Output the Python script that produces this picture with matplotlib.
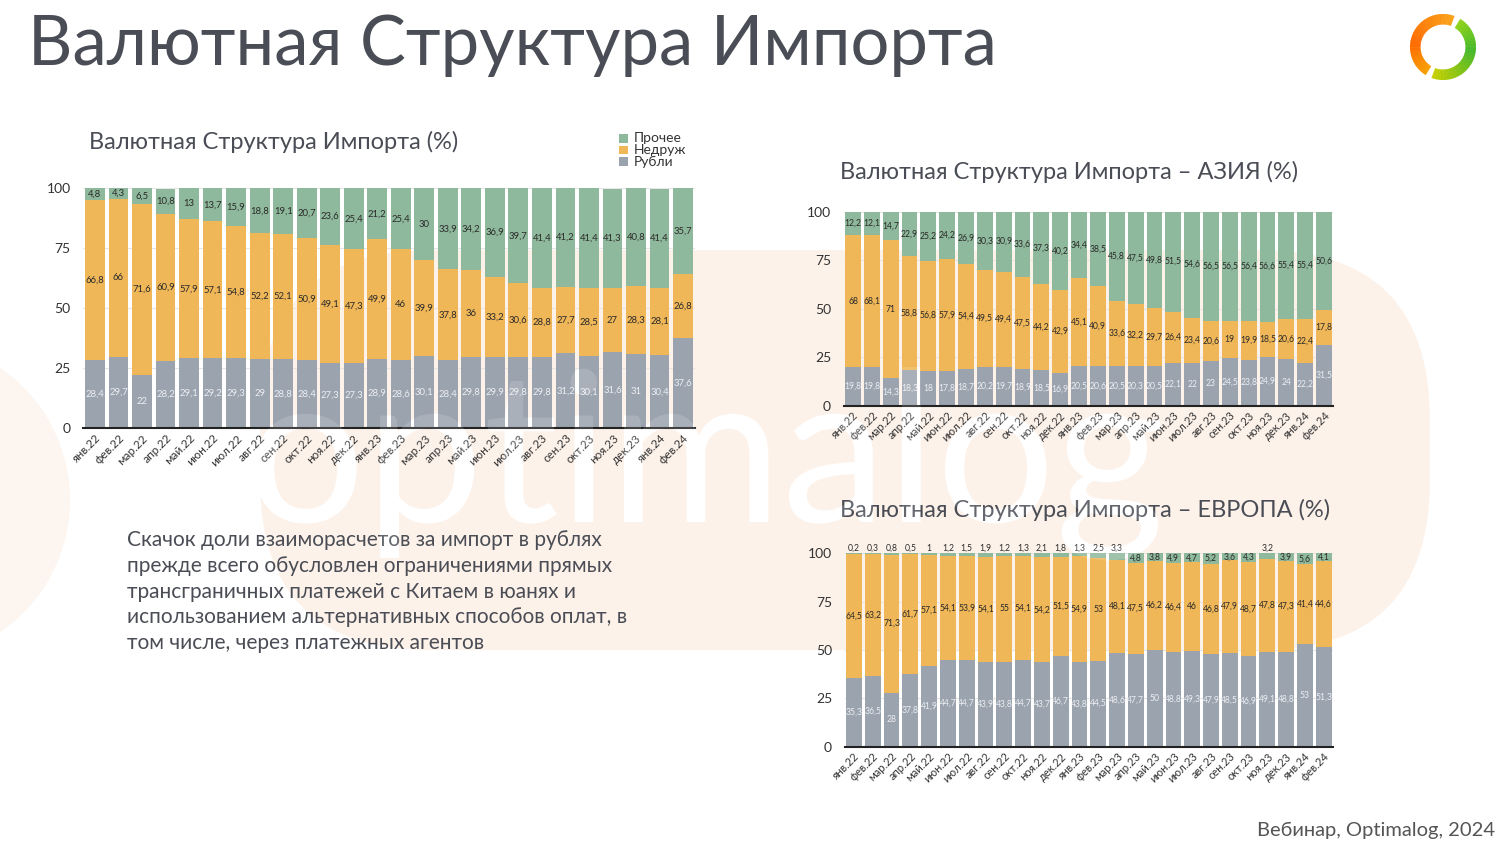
import matplotlib
matplotlib.use('Agg')
import matplotlib.pyplot as plt
from matplotlib.patches import FancyBboxPatch, Circle, Wedge, Rectangle, PathPatch
from matplotlib.textpath import TextPath
from matplotlib.font_manager import FontProperties
from matplotlib.transforms import Affine2D
from matplotlib.colors import to_rgb
import numpy as np

# ---- data ----
months = ['янв.22', 'фев.22', 'мар.22', 'апр.22', 'май.22', 'июн.22', 'июл.22',
          'авг.22', 'сен.22', 'окт.22', 'ноя.22', 'дек.22', 'янв.23', 'фев.23',
          'мар.23', 'апр.23', 'май.23', 'июн.23', 'июл.23', 'авг.23', 'сен.23',
          'окт.23', 'ноя.23', 'дек.23', 'янв.24', 'фев.24']

# all import
rub_all = [28.4, 29.7, 22, 28.2, 29.1, 29.2, 29.3, 29, 28.8, 28.4, 27.3, 27.3, 28.9,
           28.6, 30.1, 28.4, 29.8, 29.9, 29.8, 29.8, 31.2, 30.1, 31.6, 31, 30.4, 37.6]
ned_all = [66.8, 66, 71.6, 60.9, 57.9, 57.1, 54.8, 52.2, 52.1, 50.9, 49.1, 47.3, 49.9,
           46, 39.9, 37.8, 36, 33.2, 30.6, 28.8, 27.7, 28.5, 27, 28.3, 28.1, 26.8]
oth_all = [4.8, 4.3, 6.5, 10.8, 13, 13.7, 15.9, 18.8, 19.1, 20.7, 23.6, 25.4, 21.2,
           25.4, 30, 33.9, 34.2, 36.9, 39.7, 41.4, 41.2, 41.4, 41.3, 40.8, 41.4, 35.7]

# Asia
rub_asia = [19.8, 19.8, 14.3, 18.3, 18, 17.8, 18.7, 20.2, 19.7, 18.9, 18.5, 16.9, 20.5,
            20.6, 20.5, 20.3, 20.5, 22.1, 22, 23, 24.5, 23.8, 24.9, 24, 22.2, 31.5]
ned_asia = [68, 68.1, 71, 58.8, 56.8, 57.9, 54.4, 49.5, 49.4, 47.5, 44.2, 42.9, 45.1,
            40.9, 33.6, 32.2, 29.7, 26.4, 23.4, 20.6, 19, 19.9, 18.5, 20.6, 22.4, 17.8]
oth_asia = [12.2, 12.1, 14.7, 22.9, 25.2, 24.2, 26.9, 30.3, 30.9, 33.6, 37.3, 40.2, 34.4,
            38.5, 45.8, 47.5, 49.8, 51.5, 54.6, 56.5, 56.5, 56.4, 56.6, 55.4, 55.4, 50.6]

# Europe
rub_eu = [35.3, 36.5, 28, 37.8, 41.9, 44.7, 44.7, 43.9, 43.8, 44.7, 43.7, 46.7, 43.8,
          44.5, 48.6, 47.7, 50, 48.8, 49.3, 47.9, 48.5, 46.9, 49.1, 48.8, 53, 51.3]
ned_eu = [64.5, 63.2, 71.3, 61.7, 57.1, 54.1, 53.9, 54.1, 55, 54.1, 54.2, 51.5, 54.9,
          53, 48.1, 47.5, 46.2, 46.4, 46, 46.8, 47.9, 48.7, 47.8, 47.3, 41.4, 44.6]
oth_eu = [0.2, 0.3, 0.8, 0.5, 1, 1.2, 1.5, 1.9, 1.2, 1.3, 2.1, 1.8, 1.3,
          2.5, 3.3, 4.8, 3.8, 4.9, 4.7, 5.2, 3.6, 4.3, 3.2, 3.9, 5.6, 4.1]

series_names = ['Прочее', 'Недруж', 'Рубли']

C_OTH = '#8fb99c'
C_NED = '#f0b758'
C_RUB = '#9ba3ae'
TXT = '#4a4d55'
PEACH = '#fdf2ea'

plt.rcParams['font.family'] = ['Lato', 'DejaVu Sans']


def fmt(v):
    return f'{v:g}'.replace('.', ',')


def stacked(ax, rub, ned, oth, lab_fs, tick_fs, ytick_fs):
    x = np.arange(len(months))
    rub = np.array(rub, float)
    ned = np.array(ned, float)
    oth = np.array(oth, float)
    w = 0.84
    ax.bar(x, rub, width=w, color=C_RUB, zorder=2)
    ax.bar(x, ned, width=w, bottom=rub, color=C_NED, zorder=2)
    ax.bar(x, oth, width=w, bottom=rub + ned, color=C_OTH, zorder=2)
    for i in x:
        ax.text(i, rub[i] / 2, fmt(rub[i]), ha='center', va='center',
                fontsize=lab_fs, color='#eceef2', zorder=3)
        ax.text(i, rub[i] + ned[i] / 2, fmt(ned[i]), ha='center', va='center',
                fontsize=lab_fs, color='#2a2a2a', zorder=3)
        yo = rub[i] + ned[i] + oth[i] / 2
        if oth[i] < 3.5:
            yo = 102.5
        ax.text(i, yo, fmt(oth[i]), ha='center', va='center',
                fontsize=lab_fs, color='#2a2a2a', zorder=3)
    ax.set_xlim(-0.5, len(months) - 0.5)
    ax.set_ylim(0, 100)
    ax.set_yticks([0, 25, 50, 75, 100])
    ax.grid(axis='y', color='#e6e6e6', lw=0.8, zorder=0)
    ax.set_axisbelow(True)
    ax.set_xticks(x)
    ax.set_xticklabels(months, rotation=45, ha='right', rotation_mode='anchor',
                       fontsize=tick_fs, color='#333333')
    ax.tick_params(axis='x', length=0, pad=3)
    ax.tick_params(axis='y', length=0, pad=9, labelsize=ytick_fs, labelcolor='#333333')
    for s in ['top', 'left', 'right']:
        ax.spines[s].set_visible(False)
    ax.spines['bottom'].set_color('#222222')
    ax.spines['bottom'].set_linewidth(1.5)
    ax.patch.set_alpha(0)


def pixel_axes(z=0):
    a = fig.add_axes([0, 0, 1, 1], zorder=z)
    a.set_xlim(0, 1500)
    a.set_ylim(844, 0)
    a.axis('off')
    return a


def watermark_path():
    tp = TextPath((0, 0), 'optimalog', size=100, prop=FontProperties(family='Lato'))
    ext = tp.get_extents()
    s = 905 / ext.width
    tr = Affine2D().translate(-ext.x0, 0).scale(s, -s).translate(255, 522)
    return tr.transform_path(tp)


fig = plt.figure(figsize=(15, 8.44), dpi=100)
fig.patch.set_facecolor('white')

# background layer in pixel coordinates
bg = pixel_axes(0)
bg.add_patch(FancyBboxPatch((430, 420), 830, 60, boxstyle='round,pad=170',
                            fc=PEACH, ec='none', zorder=0))
bg.add_patch(Circle((-90, 500), 160, fc='#fdf6f0', ec='none', zorder=0))
wm = watermark_path()
bg.add_patch(PathPatch(wm, fc='white', ec='none', zorder=1))

# logo ring
def lerp(c1, c2, t):
    a, b = np.array(to_rgb(c1)), np.array(to_rgb(c2))
    return a + (b - a) * t

for a in np.arange(70, 236, 3):
    t = (a - 70) / 165
    col = lerp('#f9a31a', '#ff6a00', min(t * 1.6, 1)) if t < 0.62 else lerp('#ff6a00', '#f7a000', (t - 0.62) / 0.38)
    bg.add_patch(Wedge((1443, 47), 33, -a - 3.5, -a + 0.5, width=10.5, fc=col, ec='none', zorder=5))
for a in np.arange(250, 416, 3):
    t = (a - 250) / 165
    col = lerp('#c8d000', '#45b82a', min(t * 1.6, 1)) if t < 0.62 else lerp('#45b82a', '#8fd21a', (t - 0.62) / 0.38)
    bg.add_patch(Wedge((1443, 47), 33, -a - 3.5, -a + 0.5, width=10.5, fc=col, ec='none', zorder=5))

bg.text(28, 65, 'Валютная Структура Импорта', fontsize=49.5, color=TXT, va='baseline', zorder=5)
bg.text(89, 149, 'Валютная Структура Импорта (%)', fontsize=17, color=TXT, va='baseline', zorder=5)
bg.text(840, 179, 'Валютная Структура Импорта – АЗИЯ (%)', fontsize=17, color=TXT, va='baseline', zorder=5)
bg.text(840, 517, 'Валютная Структура Импорта – ЕВРОПА (%)', fontsize=17, color=TXT, va='baseline', zorder=5)

note = ('Скачок доли взаиморасчетов за импорт в рублях\n'
        'прежде всего обусловлен ограничениями прямых\n'
        'трансграничных платежей с Китаем в юанях и\n'
        'использованием альтернативных способов оплат, в\n'
        'том числе, через платежных агентов')
bg.text(127, 530, note, fontsize=15, color=TXT, va='top', linespacing=1.36, zorder=5)
bg.text(1495, 830, 'Вебинар, Optimalog, 2024', fontsize=14.5, color='#555555',
        ha='right', va='center', zorder=5)

# legend of the main chart
for i, (name, col) in enumerate(zip(series_names, [C_OTH, C_NED, C_RUB])):
    bg.add_patch(Rectangle((619, 134 + i * 11.5), 8.5, 8.5, fc=col, ec='none', zorder=5))
    bg.text(634, 138.5 + i * 11.5, name, fontsize=10, color='#333333', va='center', zorder=5)

# charts
ax1 = fig.add_axes([0.05547, 0.49254, 0.40773, 0.28436], zorder=2)
stacked(ax1, rub_all, ned_all, oth_all, 6.8, 8.5, 10)
ax2 = fig.add_axes([0.5624, 0.51931, 0.32653, 0.22986], zorder=2)
stacked(ax2, rub_asia, ned_asia, oth_asia, 6.2, 8, 10)
ax3 = fig.add_axes([0.56307, 0.11528, 0.32567, 0.22915], zorder=2)
stacked(ax3, rub_eu, ned_eu, oth_eu, 6.2, 8, 10)

# faint watermark over the charts
top = pixel_axes(10)
top.add_patch(PathPatch(wm, fc='white', ec='none', alpha=0.15))

fig.savefig('out.png', dpi=100, facecolor='white')
